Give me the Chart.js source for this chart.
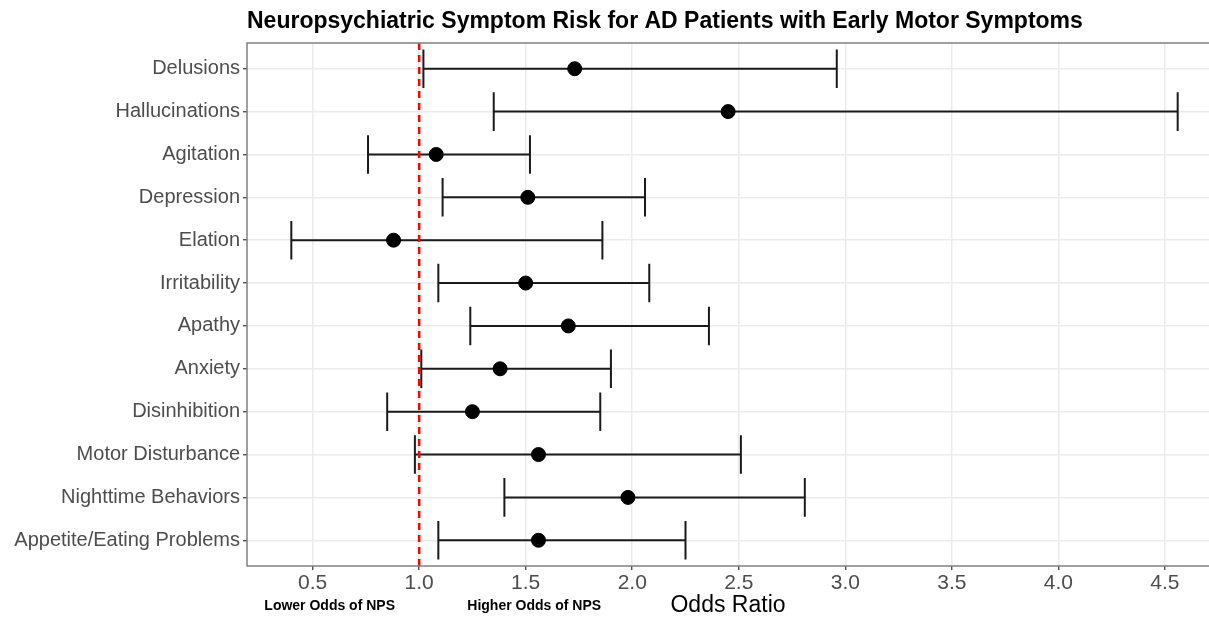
<!DOCTYPE html>
<html>
<head>
<meta charset="utf-8">
<script src="https://cdn.jsdelivr.net/npm/chart.js@4.4.1/dist/chart.umd.min.js"></script>
<style>
  html, body { margin: 0; padding: 0; background: #fff; overflow: hidden; }
  #wrap { width: 1209px; height: 617px; position: relative; }
</style>
</head>
<body>
<div id="wrap"><canvas id="forestChart"></canvas></div>
<script>
const symptoms = [
  'Delusions', 'Hallucinations', 'Agitation', 'Depression', 'Elation', 'Irritability',
  'Apathy', 'Anxiety', 'Disinhibition', 'Motor Disturbance', 'Nighttime Behaviors',
  'Appetite/Eating Problems'
];
const oddsRatio = [1.73, 2.45, 1.08, 1.51, 0.88, 1.50, 1.70, 1.38, 1.25, 1.56, 1.98, 1.56];
const ciLower   = [1.02, 1.35, 0.76, 1.11, 0.40, 1.09, 1.24, 1.01, 0.85, 0.98, 1.40, 1.09];
const ciUpper   = [2.96, 4.56, 1.52, 2.06, 1.86, 2.08, 2.36, 1.90, 1.85, 2.51, 2.81, 2.25];
const xTicks = [0.5, 1.0, 1.5, 2.0, 2.5, 3.0, 3.5, 4.0, 4.5];
const refLine = 1;
const noteLabels = ['Lower Odds of NPS', 'Higher Odds of NPS'];
const noteX = [0.58, 1.54];

const FONT = '"Liberation Sans", Arial, Helvetica, sans-serif';

// error bars, reference line, border, title and notes
const forestPlugin = {
  id: 'forestExtras',
  beforeDatasetsDraw(chart) {
    const { ctx, chartArea, scales: { x, y } } = chart;
    ctx.save();
    ctx.strokeStyle = '#1a1a1a';
    ctx.lineWidth = 2;
    symptoms.forEach((s, i) => {
      const yc = y.getPixelForValue(i);
      const yt = y.getPixelForValue(i - 0.45);
      const yb = y.getPixelForValue(i + 0.45);
      const xl = x.getPixelForValue(ciLower[i]);
      const xh = x.getPixelForValue(ciUpper[i]);
      ctx.beginPath();
      ctx.moveTo(xl, yc); ctx.lineTo(xh, yc);
      ctx.moveTo(xl, yt); ctx.lineTo(xl, yb);
      ctx.moveTo(xh, yt); ctx.lineTo(xh, yb);
      ctx.stroke();
    });
    // reference line at OR = 1
    const xr = x.getPixelForValue(refLine);
    ctx.strokeStyle = '#ff0000';
    ctx.lineWidth = 2.5;
    ctx.setLineDash([7, 5]);
    ctx.beginPath();
    ctx.moveTo(xr, chartArea.top);
    ctx.lineTo(xr, chartArea.bottom);
    ctx.stroke();
    ctx.restore();
  },
  afterDatasetsDraw(chart) {
    const { ctx, chartArea } = chart;
    ctx.save();
    ctx.strokeStyle = '#808080';
    ctx.lineWidth = 1.5;
    ctx.strokeRect(chartArea.left, chartArea.top, chartArea.right - chartArea.left + 20, chartArea.bottom - chartArea.top);
    ctx.restore();
  },
  afterDraw(chart) {
    const { ctx, chartArea, scales: { x } } = chart;
    ctx.save();
    ctx.fillStyle = '#000';
    ctx.textBaseline = 'middle';
    ctx.textAlign = 'left';
    ctx.font = 'bold 23px ' + FONT;
    ctx.fillText('Neuropsychiatric Symptom Risk for AD Patients with Early Motor Symptoms', chartArea.left, 22);
    ctx.textAlign = 'center';
    ctx.font = 'bold 14px ' + FONT;
    noteLabels.forEach((t, i) => ctx.fillText(t, x.getPixelForValue(noteX[i]), 606));
    ctx.restore();
  }
};

new Chart(document.getElementById('forestChart'), {
  type: 'scatter',
  data: {
    datasets: [{
      data: oddsRatio.map((v, i) => ({ x: v, y: i })),
      backgroundColor: '#000',
      borderColor: '#000',
      pointRadius: 7,
      pointHoverRadius: 7
    }]
  },
  options: {
    responsive: true,
    maintainAspectRatio: false,
    animation: false,
    layout: { autoPadding: false, padding: { top: 43, right: 0, bottom: 0, left: 0 } },
    plugins: {
      legend: { display: false },
      tooltip: { enabled: false },
      title: { display: false }
    },
    scales: {
      x: {
        type: 'linear',
        min: 0.192,
        max: 4.707,
        afterBuildTicks: scale => { scale.ticks = xTicks.map(v => ({ value: v })); },
        afterFit: scale => {
          scale.height = 51;
          scale.paddingLeft = 0;
          scale.paddingRight = 0;
        },
        border: { display: false },
        grid: { color: '#ebebeb', lineWidth: 1.5, tickColor: '#333', tickLength: 4, tickWidth: 1.2 },
        ticks: {
          autoSkip: false,
          maxRotation: 0,
          padding: 1,
          color: '#4d4d4d',
          font: { family: FONT, size: 21 },
          callback: v => Number(v).toFixed(1)
        },
        title: {
          display: true,
          text: 'Odds Ratio',
          color: '#000',
          padding: { top: 0, bottom: 0 },
          font: { family: FONT, size: 23, lineHeight: 1.0 }
        }
      },
      y: {
        type: 'linear',
        reverse: true,
        min: -0.6,
        max: 11.6,
        afterBuildTicks: scale => { scale.ticks = symptoms.map((s, i) => ({ value: i })); },
        afterFit: scale => {
          scale.width = 247;
          scale.paddingTop = 0;
          scale.paddingBottom = 0;
        },
        border: { display: false },
        grid: { color: '#ebebeb', lineWidth: 1.5, tickColor: '#333', tickLength: 4, tickWidth: 1.2 },
        ticks: {
          autoSkip: false,
          padding: 3,
          color: '#4d4d4d',
          font: { family: FONT, size: 20 },
          callback: v => symptoms[v]
        }
      }
    }
  },
  plugins: [forestPlugin]
});
</script>
</body>
</html>
